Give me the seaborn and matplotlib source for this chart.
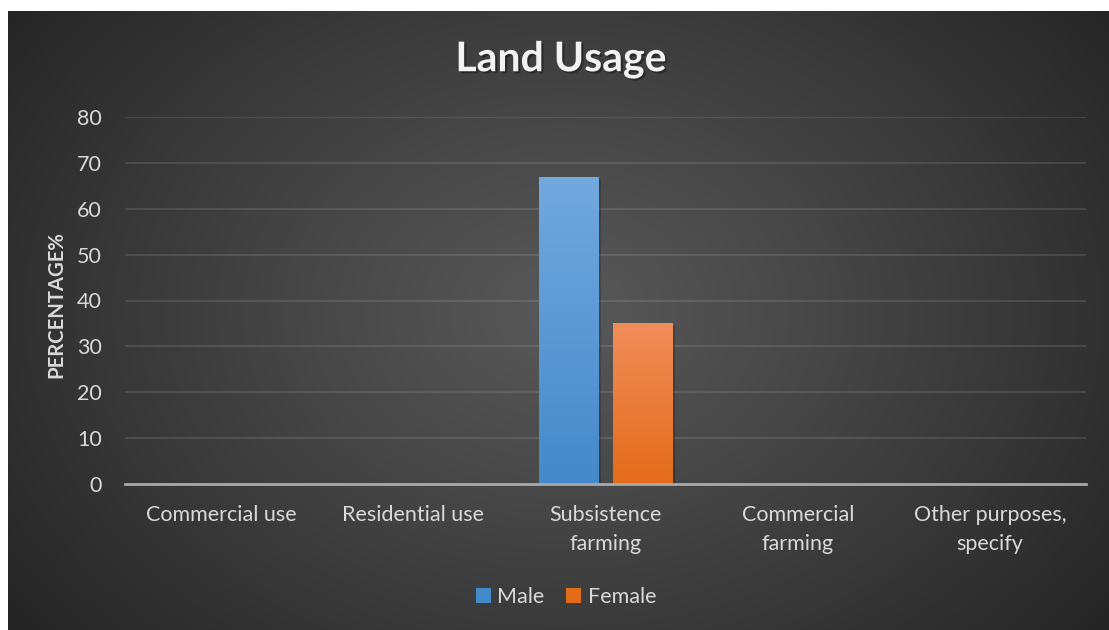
import numpy as np
import pandas as pd
import matplotlib
matplotlib.use("Agg")
import matplotlib.pyplot as plt
import matplotlib.patheffects as pe
from matplotlib.patches import Patch
import seaborn as sns

categories = ["Commercial use", "Residential use", "Subsistence\nfarming",
              "Commercial\nfarming", "Other purposes,\nspecify"]
male = [0, 0, 67, 0, 0]
female = [0, 0, 35, 0, 0]
series = ["Male", "Female"]
yticks = [0, 10, 20, 30, 40, 50, 60, 70, 80]

df = pd.DataFrame({
    "category": categories * 2,
    "value": male + female,
    "sex": ["Male"] * len(categories) + ["Female"] * len(categories),
})

sns.set_theme(style="white")
plt.rcParams["font.family"] = ["Lato", "DejaVu Sans"]

W, H = 1109, 630
fig = plt.figure(figsize=(W / 100, H / 100), dpi=100)
fig.patch.set_facecolor("white")

# dark radial-gradient backdrop
bg = fig.add_axes([8 / W, 0, (W - 8) / W, (H - 11) / H], zorder=-10)
bg.set_axis_off()
yy, xx = np.mgrid[0:619, 0:1101]
cx, cy = 555, 300
r = np.sqrt(((xx - cx) / 700.0) ** 2 + ((yy - cy) / 520.0) ** 2)
r = np.clip(r, 0, 1)
c0, c1 = 0x58 / 255, 0x24 / 255
val = c0 + (c1 - c0) * r ** 1.1
bg.imshow(np.dstack([val, val, val]), aspect="auto", extent=[0, 1, 0, 1],
          origin="upper")
bg.set_xlim(0, 1)
bg.set_ylim(0, 1)

ax = fig.add_axes([125 / W, 146 / H, (1086 - 125) / W, (484 - 117) / H])
ax.patch.set_alpha(0)

pal = {"Male": "#5b9bd5", "Female": "#ed7d31"}
sns.barplot(data=df, x="category", y="value", hue="sex", hue_order=series,
            palette=pal, width=0.77, gap=0.19, linewidth=0, saturation=1,
            legend=False, ax=ax, zorder=3)

grads = {
    "Male": ("#72a9df", "#4489c9"),
    "Female": ("#f08d5a", "#e46b19"),
}
n = len(categories)
for i, p in enumerate(ax.patches):
    h = p.get_height()
    if h <= 0:
        continue
    key = series[i // n]
    top, bot = grads[key]
    t = np.array(matplotlib.colors.to_rgb(top))
    b = np.array(matplotlib.colors.to_rgb(bot))
    s = np.linspace(0, 1, 256)[:, None]
    img = (t[None, :] * (1 - s) + b[None, :] * s)[:, None, :]
    x0 = p.get_x()
    w = p.get_width()
    p.set_path_effects([pe.SimplePatchShadow(offset=(1.5, -1.5), shadow_rgbFace="black",
                                             alpha=0.2), pe.Normal()])
    im = ax.imshow(img, aspect="auto", extent=[x0, x0 + w, 0, h], origin="upper",
                   zorder=4)
    im.set_clip_path(p)

ax.set_xlim(-0.5, n - 0.5)
ax.set_ylim(0, 80)
ax.set_yticks(yticks)
ax.set_yticklabels([str(v) for v in yticks])
ax.yaxis.grid(True, color="white", alpha=0.11, linewidth=1.4, zorder=0)
ax.set_axisbelow(True)
for sp in ["top", "right", "left"]:
    ax.spines[sp].set_visible(False)
ax.spines["bottom"].set_color("#a8a8a8")
ax.spines["bottom"].set_linewidth(2)
ax.spines["bottom"].set_zorder(5)
ax.tick_params(axis="both", length=0, colors="#d9d9d9", labelsize=15.5)
ax.tick_params(axis="y", pad=16.5)
ax.tick_params(axis="x", pad=15)
for lab in ax.get_xticklabels():
    lab.set_linespacing(1.55)
ax.set_xlabel("")
ax.set_ylabel("PERCENTAGE%", color="#d9d9d9", fontsize=14.6, fontweight="bold")
ax.yaxis.set_label_coords(-0.0615, 0.49)

fig.text(561 / W, (H - 60) / H, "Land Usage", ha="center", va="center",
         fontsize=29.5, fontweight="bold", color="#f2f2f2",
         path_effects=[pe.withSimplePatchShadow(offset=(1.5, -1.5),
                                                shadow_rgbFace="black", alpha=0.35)])

handles = [Patch(facecolor=grads[s][1], edgecolor="none", label=s) for s in series]
leg = fig.legend(handles=handles, loc="center", bbox_to_anchor=(566 / W, (H - 597) / H),
                 ncol=2, frameon=False, fontsize=15.5, handlelength=0.7,
                 handleheight=0.7, handletextpad=0.3, columnspacing=1.0)
for t in leg.get_texts():
    t.set_color("#d9d9d9")

fig.savefig("out.png", dpi=100, facecolor=fig.get_facecolor())
